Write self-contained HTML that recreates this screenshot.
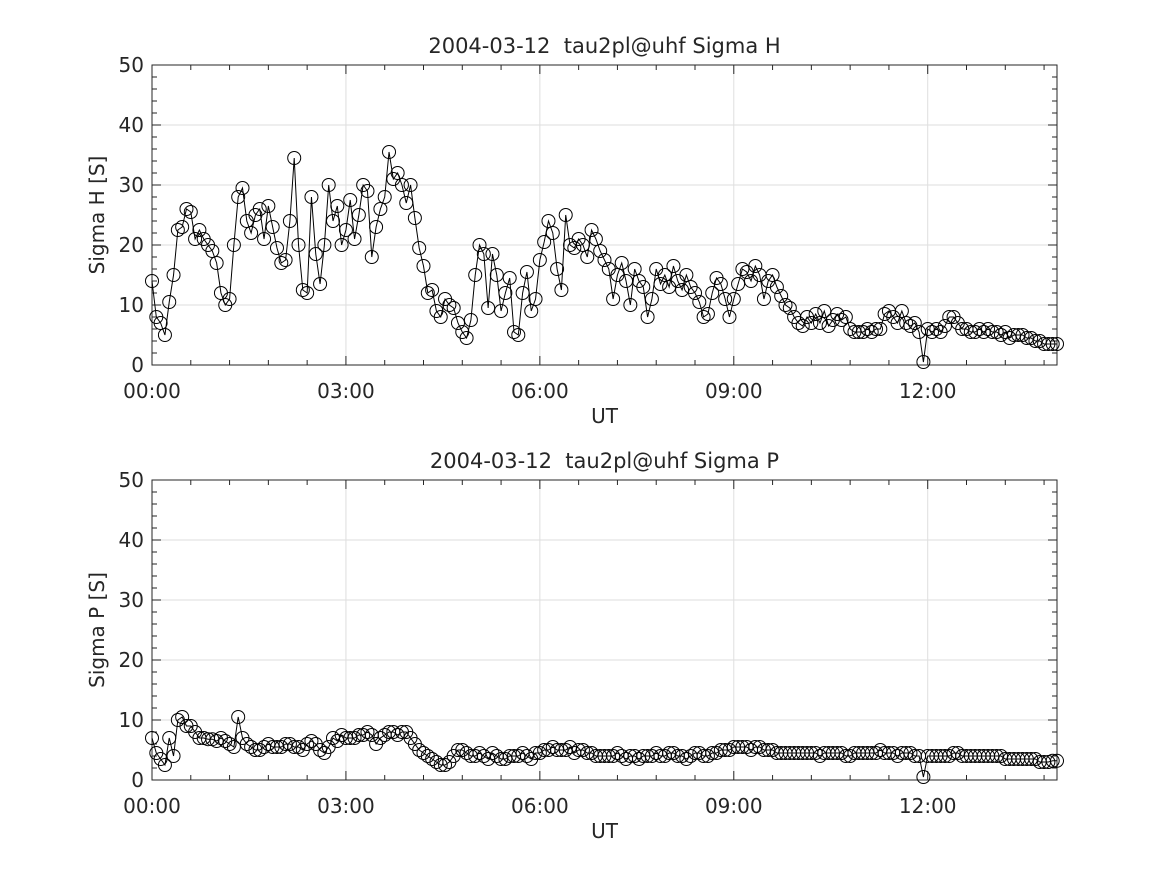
<!DOCTYPE html>
<html><head><meta charset="utf-8"><style>
html,body{margin:0;padding:0;background:#fff}
svg{display:block}
text{font-family:"DejaVu Sans","Liberation Sans",sans-serif;fill:#262626}
</style></head><body>
<svg id="svg" width="1167" height="875" viewBox="0 0 1167 875"></svg>
<script>
const tickHours=[0,3,6,9,12];
const tickLabels=["00:00","03:00","06:00","09:00","12:00"];
const yTicks=[0,10,20,30,40,50];
const stepMin=4;
const sigmaH=[14,8,7,5,10.5,15,22.5,23,26,25.5,21,22.5,21,20,19,
17,12,10,11,20,28,29.5,24,22,25,26,21,26.5,23,19.5,
17,17.5,24,34.5,20,12.5,12,28,18.5,13.5,20,30,24,26.5,20,
22.5,27.5,21,25,30,29,18,23,26,28,35.5,31,32,30,27,
30,24.5,19.5,16.5,12,12.5,9,8,11,10,9.5,7,5.5,4.5,7.5,
15,20,18.5,9.5,18.5,15,9,12,14.5,5.5,5,12,15.5,9,11,
17.5,20.5,24,22,16,12.5,25,20,19.5,21,20,18,22.5,21,19,
17.5,16,11,15,17,14,10,16,14,13,8,11,16,13.5,15,
13,16.5,14,12.5,15,13,12,10.5,8,8.5,12,14.5,13.5,11,8,
11,13.5,16,15.5,14,16.5,15,11,14,15,13,11.5,10,9.5,8,
7,6.5,8,7,8.5,7,9,6.5,7.5,8.5,7.5,8,6,5.5,5.5,
5.5,6,5.5,6,6,8.5,9,8,7,9,7,6.5,7,5.5,0.5,
6,5.5,6,5.5,6.5,8,8,7,6,6,5.5,5.5,6,5.5,6,
5.5,5.5,5,5.5,4.5,5,5,5,4.5,4.5,4,4,3.5,3.5,3.5,3.5];
const sigmaP=[7,4.5,3.5,2.5,7,4,10,10.5,9,9,8,7,7,6.8,6.8,
6.5,7,6.5,6,5.5,10.5,7,6,5.5,5,5,5.5,6,5.5,5.5,
5.5,6,6,5.5,5.5,5,6,6.5,6,5,4.5,5.5,7,6.5,7.5,
7,7,7,7.5,7.5,8,7.5,6,7,7.5,8,8,7.5,8,8,
7,6,5,4.5,4,3.5,3,2.5,2.5,3,4,5,5,4.5,4,
4,4.5,4,3.5,4.5,4,3.5,3.5,4,4,4,4.5,4,3.5,4.5,
4.5,5,5,5.5,5,5,5,5.5,4.5,5,5,4.5,4.5,4,4,
4,4,4,4.5,4,3.5,4,4,3.5,4,4,4,4.5,4,4,
4.5,4.5,4,4,3.5,4,4.5,4.5,4,4,4.5,4.5,5,5,5,
5.5,5.5,5.5,5.5,5,5.5,5.5,5,5,5,4.5,4.5,4.5,4.5,4.5,
4.5,4.5,4.5,4.5,4.5,4,4.5,4.5,4.5,4.5,4.5,4,4,4.5,4.5,
4.5,4.5,4.5,4.5,5,4.5,4.5,4.5,4,4.5,4.5,4.5,4,4,0.5,
4,4,4,4,4,4,4.5,4.5,4,4,4,4,4,4,4,
4,4,4,3.5,3.5,3.5,3.5,3.5,3.5,3.5,3.5,3,3,3,3.2,3.2];

const NS="http://www.w3.org/2000/svg";
const svg=document.getElementById('svg');
function mk(tag,attrs,parent){const e=document.createElementNS(NS,tag);for(const k in attrs)e.setAttribute(k,attrs[k]);(parent||svg).appendChild(e);return e;}

function panel(top,data,title,ylabel,key){
  const L=152,R=1057,T=top,B=top+300,xMax=14,yMax=50;
  const xs=h=>L+(h/xMax)*(R-L);
  const ys=v=>B-(v/yMax)*(B-T);
  const g=mk('g',{});
  
  
  tickHours.forEach(h=>{const l=mk('line',{x1:xs(h),x2:xs(h),y1:T,y2:B,stroke:'#dedede','stroke-width':1},g);});
  yTicks.forEach(v=>{const l=mk('line',{x1:L,x2:R,y1:ys(v),y2:ys(v),stroke:'#dedede','stroke-width':1},g);});
  for(let m=0;m<=xMax*60;m+=36){const x=xs(m/60);const maj=m%180===0;const len=maj?9:5;
    mk('line',{x1:x,x2:x,y1:B,y2:B-len,stroke:'#262626'},g);mk('line',{x1:x,x2:x,y1:T,y2:T+len,stroke:'#262626'},g);}
  for(let v=0;v<=yMax;v+=2){const y=ys(v);const maj=v%10===0;const len=maj?9:5;
    mk('line',{x1:L,x2:L+len,y1:y,y2:y,stroke:'#262626'},g);mk('line',{x1:R,x2:R-len,y1:y,y2:y,stroke:'#262626'},g);}
  const box=mk('rect',{x:L,y:T,width:R-L,height:B-T,fill:'none',stroke:'#262626','stroke-width':1},g);
  
  tickHours.forEach((h,i)=>{const t=mk('text',{x:xs(h),y:B+33,'font-size':20,'text-anchor':'middle'},g);t.textContent=tickLabels[i];});
  yTicks.forEach(v=>{const t=mk('text',{x:L-8,y:ys(v)+7,'font-size':20,'text-anchor':'end'},g);t.textContent=v;});
  const xt=mk('text',{x:(L+R)/2,y:B+58,'font-size':20,'text-anchor':'middle'},g);xt.textContent='UT';
  
  const yt=mk('text',{x:0,y:0,'font-size':20,'text-anchor':'middle',transform:`translate(104,${(T+B)/2}) rotate(-90)`},g);yt.textContent=ylabel;
  
  const tt=mk('text',{x:(L+R)/2,y:T-12,'font-size':21,'text-anchor':'middle',fill:'#000',style:'white-space:pre'},g);tt.textContent=title;
  
  const pts=data.map((v,i)=>[xs(i*stepMin/60),ys(v)]);
  const pl=mk('polyline',{points:pts.map(p=>p.join(',')).join(' '),fill:'none',stroke:'#000','stroke-width':1},g);
  
  pts.forEach(p=>{const c=mk('circle',{cx:p[0],cy:p[1],r:6.5,fill:'none',stroke:'#000','stroke-width':1},g);
    
    });
}
panel(65,sigmaH,'2004-03-12  tau2pl@uhf Sigma H','Sigma H [S]','sigma-h');
panel(480,sigmaP,'2004-03-12  tau2pl@uhf Sigma P','Sigma P [S]','sigma-p');
</script>
</body></html>
